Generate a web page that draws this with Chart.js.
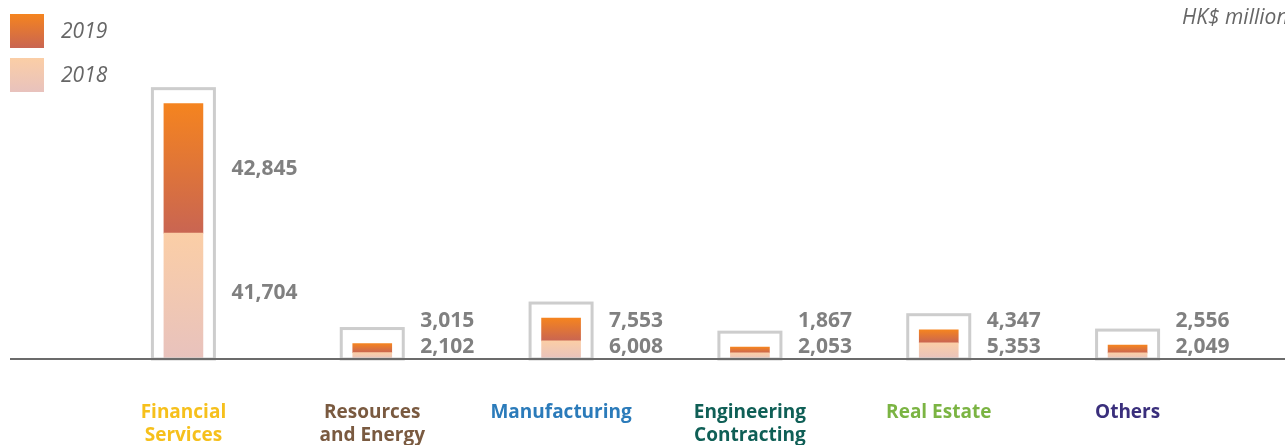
<!DOCTYPE html>
<html>
<head>
<meta charset="utf-8">
<script src="https://cdn.jsdelivr.net/npm/chart.js@4/dist/chart.umd.min.js"></script>
<style>
  html, body { margin: 0; padding: 0; background: #fff; }
  #wrap { width: 1285px; height: 445px; position: relative; }
</style>
</head>
<body>
<div id="wrap"><canvas id="loanChart"></canvas></div>
<script>
// Loans by industry, HK$ million
const categories = [
  ['Financial', 'Services'],
  ['Resources', 'and Energy'],
  ['Manufacturing'],
  ['Engineering', 'Contracting'],
  ['Real Estate'],
  ['Others'],
];
const values2019 = [42845, 3015, 7553, 1867, 4347, 2556];
const values2018 = [41704, 2102, 6008, 2053, 5353, 2049];
const seriesNames = ['2019', '2018'];
const unitLabel = 'HK$ million';

const categoryColors = ['#f6c01c', '#7a5a40', '#2b7bba', '#0f5f56', '#7bb443', '#3a2f7c'];
const grad2019 = ['#f5841f', '#c96552'];
const grad2018 = ['#fbcea6', '#e8c2bd'];

function fmt(v) {
  return v.toLocaleString('en-US');
}

function segmentFill(context, colors, lower, upper) {
  const chart = context.chart;
  const y = chart.scales.y;
  if (!chart.chartArea || !y) return colors[0];
  const i = context.dataIndex;
  const top = y.getPixelForValue(upper[i]);
  const bottom = y.getPixelForValue(lower[i]);
  if (!isFinite(top) || !isFinite(bottom) || top === bottom) return colors[0];
  const g = chart.ctx.createLinearGradient(0, top, 0, bottom);
  g.addColorStop(0, colors[0]);
  g.addColorStop(1, colors[1]);
  return g;
}

const zeros = values2018.map(() => 0);
const totals = values2018.map((v, i) => v + values2019[i]);

// boxes round each stack, value labels, legend, unit text, baseline
const decorations = {
  id: 'decorations',
  afterDatasetsDraw(chart) {
    const ctx = chart.ctx;
    const y = chart.scales.y;
    const base = y.getPixelForValue(0);
    const m18 = chart.getDatasetMeta(0).data;
    const m19 = chart.getDatasetMeta(1).data;

    ctx.save();
    // outline boxes
    ctx.strokeStyle = '#cdcdcd';
    ctx.lineWidth = 3;
    m19.forEach((bar) => {
      const top = bar.y - 15;
      ctx.strokeRect(bar.x - 31, top, 62, base - top);
    });

    // baseline
    ctx.strokeStyle = '#6b6b6b';
    ctx.lineWidth = 2;
    ctx.beginPath();
    ctx.moveTo(10, base);
    ctx.lineTo(chart.width, base);
    ctx.stroke();

    // value labels
    ctx.fillStyle = '#808080';
    ctx.font = 'bold 21px "Open Sans"';
    ctx.textAlign = 'left';
    ctx.textBaseline = 'middle';
    m19.forEach((bar19, i) => {
      const bar18 = m18[i];
      const x = bar19.x + 48;
      let y18, y19;
      if (bar18.base - bar18.y > 50 && bar19.base - bar19.y > 50) {
        y18 = (bar18.y + bar18.base) / 2 - 3;
        y19 = (bar19.y + bar19.base) / 2 + 1;
      } else {
        y18 = base - 12;
        y19 = base - 38;
      }
      ctx.fillText(fmt(values2019[i]), x, y19);
      ctx.fillText(fmt(values2018[i]), x, y18);
    });

    // legend
    const legendGrads = [grad2019, grad2018];
    seriesNames.forEach((name, k) => {
      const top = 14 + k * 44;
      const g = ctx.createLinearGradient(0, top, 0, top + 34);
      g.addColorStop(0, legendGrads[k][0]);
      g.addColorStop(1, legendGrads[k][1]);
      ctx.fillStyle = g;
      ctx.fillRect(10, top, 34, 34);
      ctx.fillStyle = '#666666';
      ctx.font = 'italic 21px "Open Sans"';
      ctx.fillText(name, 61, top + 18);
    });

    // unit
    ctx.font = 'italic 21px "Open Sans"';
    ctx.fillStyle = '#666666';
    ctx.fillText(unitLabel, 1182, 18);
    ctx.restore();
  },
};

new Chart(document.getElementById('loanChart'), {
  type: 'bar',
  data: {
    labels: categories,
    datasets: [
      {
        label: seriesNames[1],
        data: values2018,
        backgroundColor: (c) => segmentFill(c, grad2018, zeros, values2018),
        barThickness: 39,
      },
      {
        label: seriesNames[0],
        data: values2019,
        backgroundColor: (c) => segmentFill(c, grad2019, values2018, totals),
        barThickness: 39,
      },
    ],
  },
  options: {
    responsive: true,
    maintainAspectRatio: false,
    animation: false,
    layout: { padding: { left: 89, right: 63, top: 57, bottom: 0 } },
    plugins: {
      legend: { display: false },
      tooltip: { enabled: false },
    },
    scales: {
      x: {
        stacked: true,
        grid: { display: false, drawTicks: false },
        border: { display: false },
        afterFit: (scale) => { scale.height = 86; },
        ticks: {
          padding: 42,
          autoSkip: false,
          maxRotation: 0,
          color: (c) => categoryColors[c.index],
          font: { family: '"Open Sans"', size: 19, weight: 'bold', lineHeight: 1.2 },
        },
      },
      y: {
        stacked: true,
        display: false,
        min: 0,
        max: 100000,
      },
    },
  },
  plugins: [decorations],
});
</script>
</body>
</html>
